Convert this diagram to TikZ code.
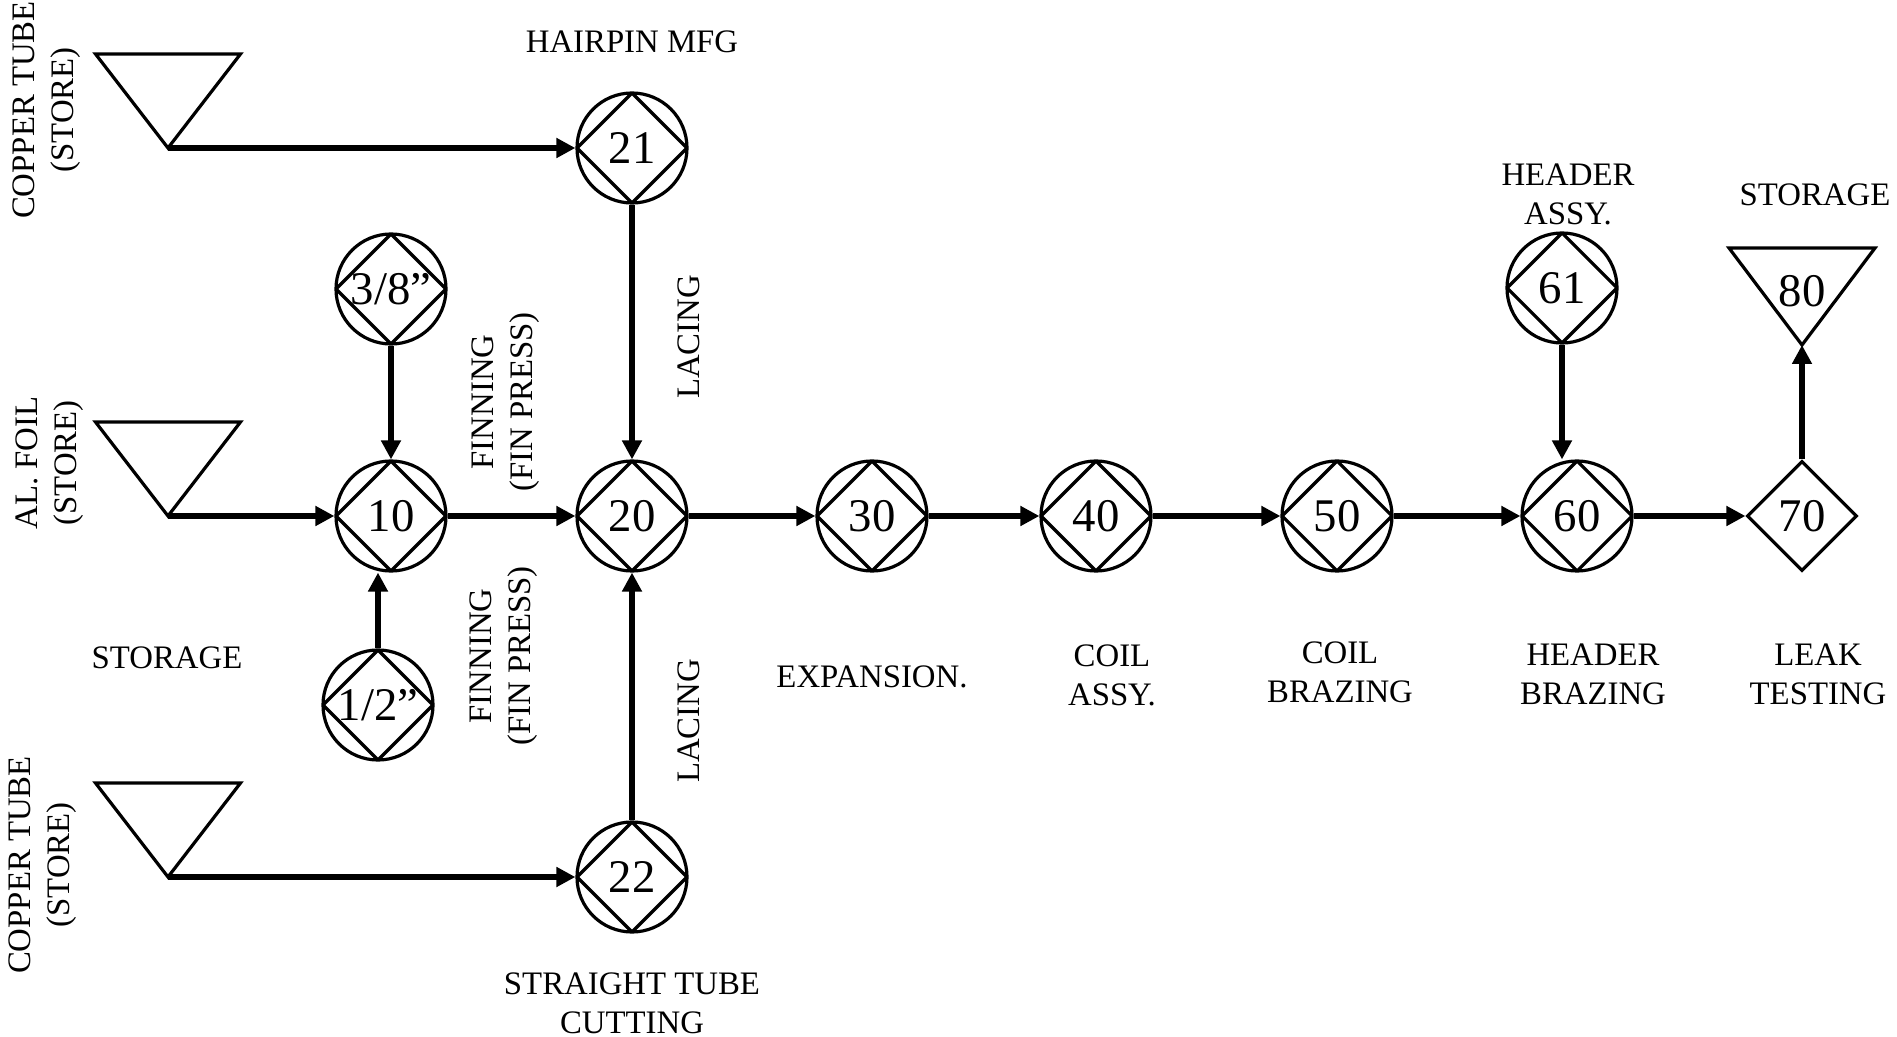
\documentclass[tikz,border=0pt]{standalone}
\usepackage{fontspec}
\setmainfont{Liberation Serif}
\usetikzlibrary{arrows.meta,shapes.geometric}

\begin{document}
\begin{tikzpicture}[x=0.5pt,y=-0.5pt,->,>={Triangle[length=9.5pt,width=9.5pt]},line width=3pt,node distance=120pt]
\tikzstyle{num}=[font=\fontsize{23.4}{26}\selectfont,inner sep=0pt]
\tikzstyle{oper}=[num,circle,draw,line width=1.6pt,minimum size=55pt,
  path picture={\draw[-,line width=1.6pt] (path picture bounding box.north) -- (path picture bounding box.east)
    -- (path picture bounding box.south) -- (path picture bounding box.west) -- cycle;}]
\tikzstyle{inspect}=[num,diamond,draw,line width=1.6pt,minimum width=55pt,minimum height=55pt]
\tikzstyle{store}=[-,draw,line width=1.6pt]
\tikzstyle{lbl}=[font=\fontsize{16.4}{19.5}\selectfont,align=center,inner sep=0pt]
\tikzstyle{vlbl}=[lbl,rotate=90]
\useasboundingbox (0,0) rectangle (1897,1037);

% main line
\node[oper] (10) at (391,516) {10};
\node[oper][right of=10,node distance=120.5pt] (20) {20};
\node[oper][right of=20] (30) {30};
\node[oper][right of=30,node distance=112pt] (40) {40};
\node[oper][right of=40,node distance=120.5pt] (50) {50};
\node[oper][right of=50] (60) {60};
\node[inspect][right of=60,node distance=112.5pt] (70) {70};
% feeders
\node[oper][above of=20,node distance=184pt] (21) {21};
\node[oper][below of=20,node distance=180.5pt] (22) {22};
\node[oper][above of=10,node distance=113.5pt] (38) {3/8”};
\node[oper] (12) at (378,705) {1/2”};
\node[oper] (61) at (1562,288) {61};

% stores
\coordinate (s1) at (168,148);
\coordinate (s2) at (168,516);
\coordinate (s3) at (168,877);
\coordinate (s80) at (1802,345);
\draw[store] (s1) -- ++(-72.5,-94) -- ++(145,0) -- cycle;
\draw[store] (s2) -- ++(-72.5,-94) -- ++(145,0) -- cycle;
\draw[store] (s3) -- ++(-72.5,-94) -- ++(145,0) -- cycle;
\draw[store] (s80) -- ++(-73,-97) -- ++(146,0) -- cycle;
\node[num] (80) at (1802,291) {80};

\path (s1) edge (21)
      (s2) edge (10)
      (s3) edge (22)
      (38) edge (10)
      (12) edge (12 |- 10.south)
      (21) edge (20)
      (22) edge (20)
      (10) edge (20)
      (20) edge (30)
      (30) edge (40)
      (40) edge (50)
      (50) edge (60)
      (61) edge (61 |- 60.north)
      (60) edge (70)
      (70) edge (s80);

% labels
\node[vlbl] (lcu1) at (47,110) {COPPER TUBE\\(STORE)};
\node[vlbl] (lfoil) at (50,463) {AL. FOIL\\(STORE)};
\node[vlbl] (lcu2) at (43,865) {COPPER TUBE\\(STORE)};
\node[lbl] (lsto1) at (167,658) {STORAGE};
\node[lbl] (lhair) at (632,42) {HAIRPIN MFG};
\node[vlbl] (lfin1) at (506,402) {FINNING\\(FIN PRESS)};
\node[vlbl] (lfin2) at (504,656) {FINNING\\(FIN PRESS)};
\node[vlbl] (llac1) at (689,337) {LACING};
\node[vlbl] (llac2) at (689,721) {LACING};
\node[lbl] (lexp) at (872,677) {EXPANSION.};
\node[lbl] (lcoil) at (1112,675) {COIL\\ASSY.};
\node[lbl] (lcbr) at (1340,672) {COIL\\BRAZING};
\node[lbl] (lhbr) at (1593,674) {HEADER\\BRAZING};
\node[lbl] (lleak) at (1818,674) {LEAK\\TESTING};
\node[lbl] (lhas) at (1568,194) {HEADER\\ASSY.};
\node[lbl] (lsto2) at (1815,195) {STORAGE};
\node[lbl] (lcut) at (632,1003) {STRAIGHT TUBE\\CUTTING};
\end{tikzpicture}
\end{document}
